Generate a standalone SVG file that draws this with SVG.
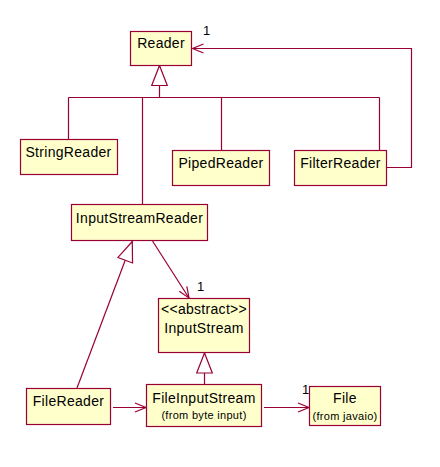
<svg xmlns="http://www.w3.org/2000/svg" width="440" height="467" viewBox="0 0 440 467">
<style>
.box{fill:#FFFFCC;stroke:#990033;stroke-width:1.2}
.ln{fill:none;stroke:#990033;stroke-width:1.2}
.t{font-family:"Liberation Sans",Arial,sans-serif;font-size:14px;fill:#000;text-anchor:middle;letter-spacing:0.3px}
.s{font-family:"Liberation Sans",Arial,sans-serif;font-size:11px;fill:#000;text-anchor:middle;letter-spacing:0.3px}
.m{font-family:"Liberation Sans",Arial,sans-serif;font-size:13px;fill:#000}
</style>
<defs>
<marker id="open" viewBox="-13 -7 15 14" refX="0" refY="0" markerWidth="15" markerHeight="14" markerUnits="userSpaceOnUse" orient="auto">
<path d="M-11,-4.5 L0,0 L-11,4.5" fill="none" stroke="#990033" stroke-width="1.2"/>
</marker>
<marker id="tri" viewBox="-22 -10 24 20" refX="0" refY="0" markerWidth="24" markerHeight="20" markerUnits="userSpaceOnUse" orient="auto">
<path d="M0,0 L-20,-7.8 L-20,7.8 Z" fill="#fff" stroke="#990033" stroke-width="1.2"/>
</marker>
</defs>
<rect width="440" height="467" fill="#fff"/>
<g id="connectors">
<path class="ln" d="M159.5,97.5 L159.5,65.5" marker-end="url(#tri)"/>
<path class="ln" d="M68.5,97.5 L379.5,97.5 M68.5,97.5 L68.5,139.5 M142.5,97.5 L142.5,204.5 M221.5,97.5 L221.5,150.5 M379.5,97.5 L379.5,150.5"/>
<path class="ln" d="M386.5,167.5 L411.5,167.5 L411.5,48.5 L192.5,48.5" marker-end="url(#open)"/>
<path class="ln" d="M77,388 L132.3,241.5" marker-end="url(#tri)"/>
<path class="ln" d="M152.5,241 L189,298" marker-end="url(#open)"/>
<path class="ln" d="M204.5,384 L204.5,353" marker-end="url(#tri)"/>
<path class="ln" d="M113,407.5 L146,407.5" marker-end="url(#open)"/>
<path class="ln" d="M264,407.5 L309,407.5" marker-end="url(#open)"/>
<text class="m" x="203" y="35">1</text>
<text class="m" x="197" y="291">1</text>
<text class="m" x="302" y="394">1</text>
</g>
<g id="Reader"><rect class="box" x="130.5" y="31.5" width="61" height="34"/><text class="t" x="161" y="47.5">Reader</text></g>
<g id="StringReader"><rect class="box" x="20.5" y="139.5" width="97" height="35"/><text class="t" x="68.5" y="157">StringReader</text></g>
<g id="PipedReader"><rect class="box" x="172.5" y="150.5" width="97" height="35"/><text class="t" x="221" y="168">PipedReader</text></g>
<g id="FilterReader"><rect class="box" x="294.5" y="150.5" width="92" height="35"/><text class="t" x="340.5" y="168">FilterReader</text></g>
<g id="InputStreamReader"><rect class="box" x="71.5" y="204.5" width="136" height="36"/><text class="t" x="139.5" y="222.5">InputStreamReader</text></g>
<g id="InputStream"><rect class="box" x="158.5" y="298.5" width="91" height="54"/><text class="t" x="204" y="314">&lt;&lt;abstract&gt;&gt;</text><text class="t" x="204" y="333">InputStream</text></g>
<g id="FileReader"><rect class="box" x="26.5" y="388.5" width="84" height="36"/><text class="t" x="68.5" y="406">FileReader</text></g>
<g id="FileInputStream"><rect class="box" x="146.5" y="384.5" width="115" height="42"/><text class="t" x="204" y="402.5">FileInputStream</text><text class="s" x="204" y="418.5">(from byte input)</text></g>
<g id="File"><rect class="box" x="309.5" y="386.5" width="71" height="39"/><text class="t" x="345" y="403">File</text><text class="s" x="345" y="420">(from javaio)</text></g>
</svg>
